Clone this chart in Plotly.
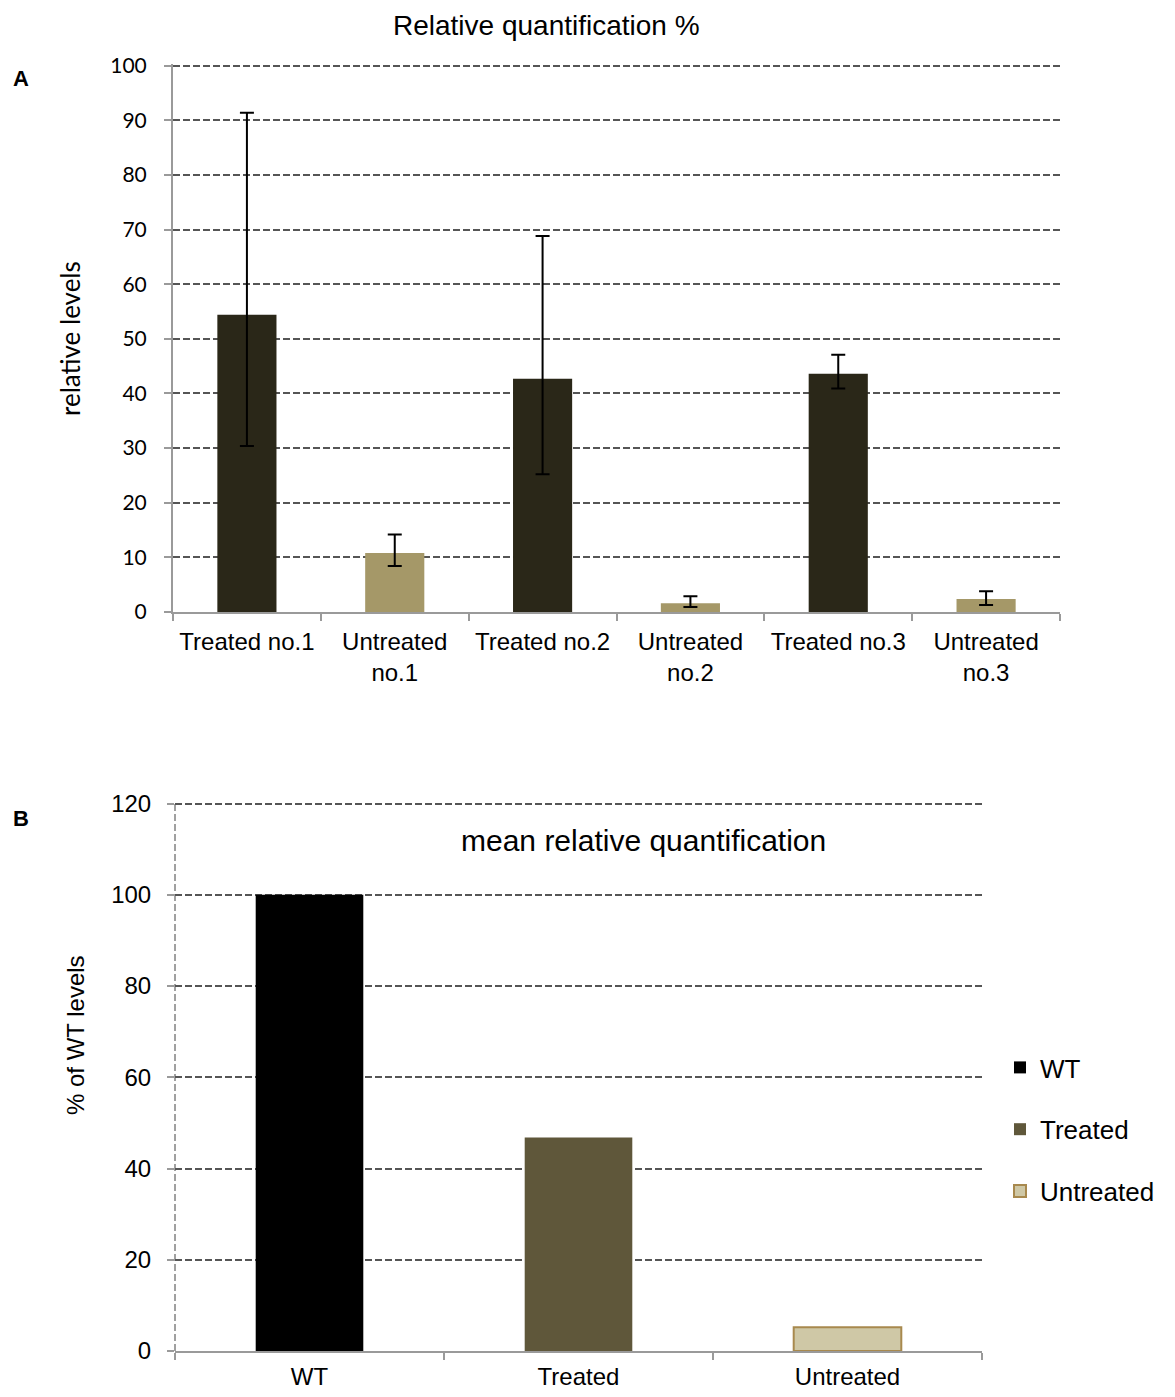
import plotly.graph_objects as go

# ---- Panel A data ----
a_categories = ["Treated no.1", "Untreated<br>no.1", "Treated no.2", "Untreated<br>no.2", "Treated no.3", "Untreated<br>no.3"]
a_values = [54.4, 10.8, 42.7, 1.6, 43.6, 2.4]
a_err_plus = [37.0, 3.4, 26.1, 1.3, 3.5, 1.4]
a_err_minus = [24.0, 2.4, 17.5, 0.7, 2.7, 1.1]
a_colors = ["#2A2718", "#A59868", "#2A2718", "#A59868", "#2A2718", "#A59868"]
a_yticks = [0, 10, 20, 30, 40, 50, 60, 70, 80, 90, 100]

# ---- Panel B data ----
b_categories = ["WT", "Treated", "Untreated"]
b_values = [100, 46.8, 5.2]
b_colors = ["#000000", "#5F573A", "#CFC8A6"]
b_line_colors = ["#000000", "#5F573A", "#A8894E"]
b_yticks = [0, 20, 40, 60, 80, 100, 120]

W, H = 1175, 1397
OFF = 8  # page body margin offset
FONT = "Liberation Sans, Arial, sans-serif"


def px(xp):
    return (xp - OFF) / W


def py(yp):
    return 1 - (yp - OFF) / H


fig = go.Figure()

fig.add_trace(go.Bar(
    x=a_categories, y=a_values, width=0.4,
    marker=dict(color=a_colors, line=dict(width=0)),
    error_y=dict(type="data", symmetric=False, array=a_err_plus, arrayminus=a_err_minus,
                 color="#000000", thickness=2, width=7),
    xaxis="x", yaxis="y", showlegend=False,
))

for i, cat in enumerate(b_categories):
    fig.add_trace(go.Bar(
        x=[cat], y=[b_values[i]], width=0.4, name=cat,
        marker=dict(color=b_colors[i], line=dict(color=b_line_colors[i], width=2 if i == 2 else 0)),
        xaxis="x2", yaxis="y2", legendgroup=cat, showlegend=True,
    ))

grid = dict(showgrid=True, gridcolor="#555555", gridwidth=2, griddash="7px,3px")

fig.update_layout(
    width=W, height=H, autosize=False,
    margin=dict(l=0, r=0, t=0, b=0, autoexpand=False),
    paper_bgcolor="white", plot_bgcolor="white",
    font=dict(family=FONT, color="#000000"),
    xaxis=dict(domain=[px(173), px(1060)], anchor="y", type="category", automargin=False,
               showline=True, linecolor="#9A9A9A", linewidth=2,
               ticks="outside", tickson="boundaries", ticklen=7, tickcolor="#9A9A9A", tickwidth=2,
               tickfont=dict(size=24, family=FONT), ticklabelstandoff=7,
               showgrid=False, zeroline=False),
    yaxis=dict(domain=[py(612), py(64)], anchor="x", range=[0, 100.3], automargin=False,
               tickvals=a_yticks, showline=True, linecolor="#9A9A9A", linewidth=2,
               ticks="outside", ticklen=7, tickcolor="#9A9A9A", tickwidth=2,
               tickfont=dict(size=21, family="Lato, Open Sans, sans-serif"), ticklabelstandoff=13,
               zeroline=False, **grid),
    xaxis2=dict(domain=[px(175), px(982)], anchor="y2", type="category", automargin=False,
                showline=True, linecolor="#9A9A9A", linewidth=2,
                ticks="outside", tickson="boundaries", ticklen=7, tickcolor="#9A9A9A", tickwidth=2,
                tickfont=dict(size=24, family=FONT), ticklabelstandoff=3,
                showgrid=False, zeroline=False),
    yaxis2=dict(domain=[py(1351), py(802)], anchor="x2", range=[0, 120.35], automargin=False,
                tickvals=b_yticks, showline=False,
                ticks="outside", ticklen=7, tickcolor="#9A9A9A", tickwidth=2,
                tickfont=dict(size=24, family=FONT), ticklabelstandoff=11,
                zeroline=False, **grid),
    legend=dict(x=px(1000), y=py(1044), xanchor="left", yanchor="top",
                font=dict(size=26, family=FONT), tracegroupgap=25, bgcolor="rgba(0,0,0,0)",
                itemwidth=30),
)

# dashed vertical axis line for panel B
fig.add_shape(type="line", xref="x2 domain", yref="y2 domain", x0=0, x1=0, y0=0, y1=1,
              line=dict(color="#A0A0A0", width=2, dash="7px,3px"), layer="below")

ann = dict(xref="paper", yref="paper", showarrow=False, xanchor="center", yanchor="middle")
fig.add_annotation(text="Relative quantification %", x=px(546), y=1.0, yanchor="top",
                   xref="paper", yref="paper", showarrow=False, xanchor="center",
                   font=dict(size=28, family=FONT))
fig.add_annotation(text="mean relative quantification", x=px(643), y=py(840),
                   font=dict(size=30, family=FONT), **ann)
fig.add_annotation(text="relative levels", textangle=-90, x=px(70), y=py(339),
                   font=dict(size=26, family="Lato, Open Sans, sans-serif"), **ann)
fig.add_annotation(text="% of WT levels", textangle=-90, x=px(75), y=py(1035),
                   font=dict(size=24, family=FONT), **ann)
fig.add_annotation(text="<b>A</b>", x=px(21), y=py(78), font=dict(size=22, family=FONT), **ann)
fig.add_annotation(text="<b>B</b>", x=px(21), y=py(818), font=dict(size=22, family=FONT), **ann)

fig.write_html("out.html")
